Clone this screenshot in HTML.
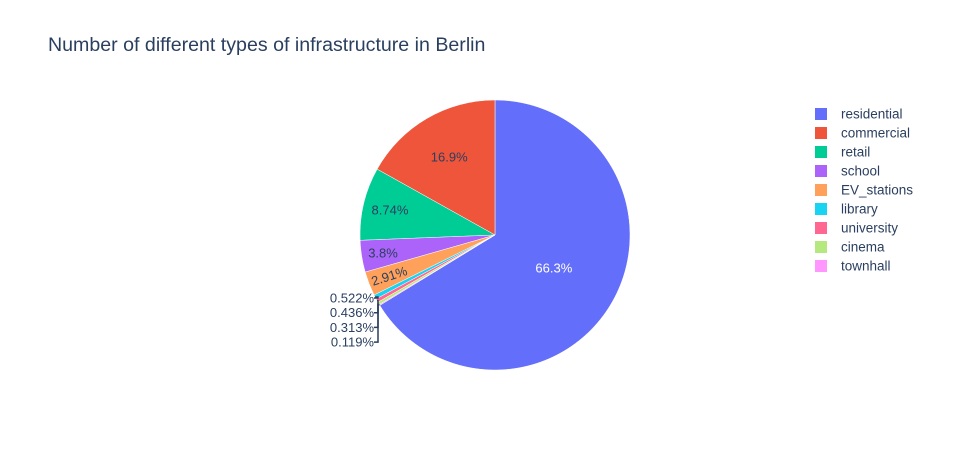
<!DOCTYPE html>
<html><head><meta charset="utf-8"><style>
body{margin:0;background:#fff;font-family:"Liberation Sans",Arial,sans-serif;}
svg text{font-family:"Liberation Sans",Arial,sans-serif;}
</style></head><body>
<svg id="c" width="953" height="450">
<text x="48" y="51" font-size="19.6" fill="#2a3f5f">Number of different types of infrastructure in Berlin</text>
</svg>
<script>
const categories=["residential","commercial","retail","school","EV_stations","library","university","cinema","townhall"];
const values=[66.3,16.9,8.74,3.8,2.91,0.522,0.436,0.313,0.119];
const labels=["66.3%","16.9%","8.74%","3.8%","2.91%","0.522%","0.436%","0.313%","0.119%"];
const colors=["#636efa","#ef553b","#00cc96","#ab63fa","#ffa15a","#19d3f3","#ff6692","#b6e880","#ff97ff"];
const NS="http://www.w3.org/2000/svg";
const svg=document.getElementById('c');
const cx=495,cy=235,R=135;
const total=values.reduce((a,b)=>a+b,0);
function pt(a,r){return [cx+r*Math.sin(a),cy-r*Math.cos(a)];}
let a0=values[0]/total*2*Math.PI;let outIdx=0;
const g=document.createElementNS(NS,'g');svg.appendChild(g);
values.forEach((v,i)=>{
  const a1=a0-v/total*2*Math.PI;
  const p0=pt(a1,R),p1=pt(a0,R);
  const large=(a0-a1)>Math.PI?1:0;
  const path=document.createElementNS(NS,'path');
  path.setAttribute('d',`M${cx},${cy}L${p0[0]},${p0[1]}A${R},${R} 0 ${large} 1 ${p1[0]},${p1[1]}Z`);
  path.setAttribute('fill',colors[i]);path.setAttribute('stroke','#fff');path.setAttribute('stroke-width','0.5');
  
  
  g.appendChild(path);
  const am=(a0+a1)/2;
  const f=v/total;
  const t=document.createElementNS(NS,'text');
  t.setAttribute('font-size','13');
  if(f>0.02){
    const rr=f>0.5?R*0.5:(f>0.1?R*0.67:(f>0.05?R*0.8:R*0.84));
    const p=pt(am,rr);
    t.setAttribute('x',p[0]);t.setAttribute('y',p[1]+4.5);t.setAttribute('text-anchor','middle');
    t.setAttribute('fill',i===0?'#fff':'#2a3f5f');
    if(f<0.035){t.setAttribute('transform',`rotate(-18 ${p[0]} ${p[1]})`);}
  } else {
    const ly=298+outIdx*14.7;
    const pe=pt(am,R);
    const ln=document.createElementNS(NS,'polyline');
    ln.setAttribute('points',`${pe[0]},${pe[1]} 378,${Math.min(pe[1],ly)} 378,${ly} 374,${ly}`);
    ln.setAttribute('fill','none');ln.setAttribute('stroke','#2a3f5f');ln.setAttribute('stroke-width','1.5');
    
    
    svg.appendChild(ln);
    t.setAttribute('x',374);t.setAttribute('y',ly+4.5);t.setAttribute('text-anchor','end');t.setAttribute('fill','#2a3f5f');
    outIdx++;
  }
  t.textContent=labels[i];
  
  
  svg.appendChild(t);
  a0=a1;
});
categories.forEach((c,i)=>{
  const y=114+i*19;
  const r=document.createElementNS(NS,'rect');
  r.setAttribute('x',815);r.setAttribute('y',y-6);r.setAttribute('width',12);r.setAttribute('height',12);r.setAttribute('fill',colors[i]);
  
  
  svg.appendChild(r);
  const t=document.createElementNS(NS,'text');
  t.setAttribute('x',841);t.setAttribute('y',y+4.5);t.setAttribute('font-size','13.5');t.setAttribute('fill','#2a3f5f');
  t.textContent=c;
  
  
  svg.appendChild(t);
});
</script>
</body></html>
